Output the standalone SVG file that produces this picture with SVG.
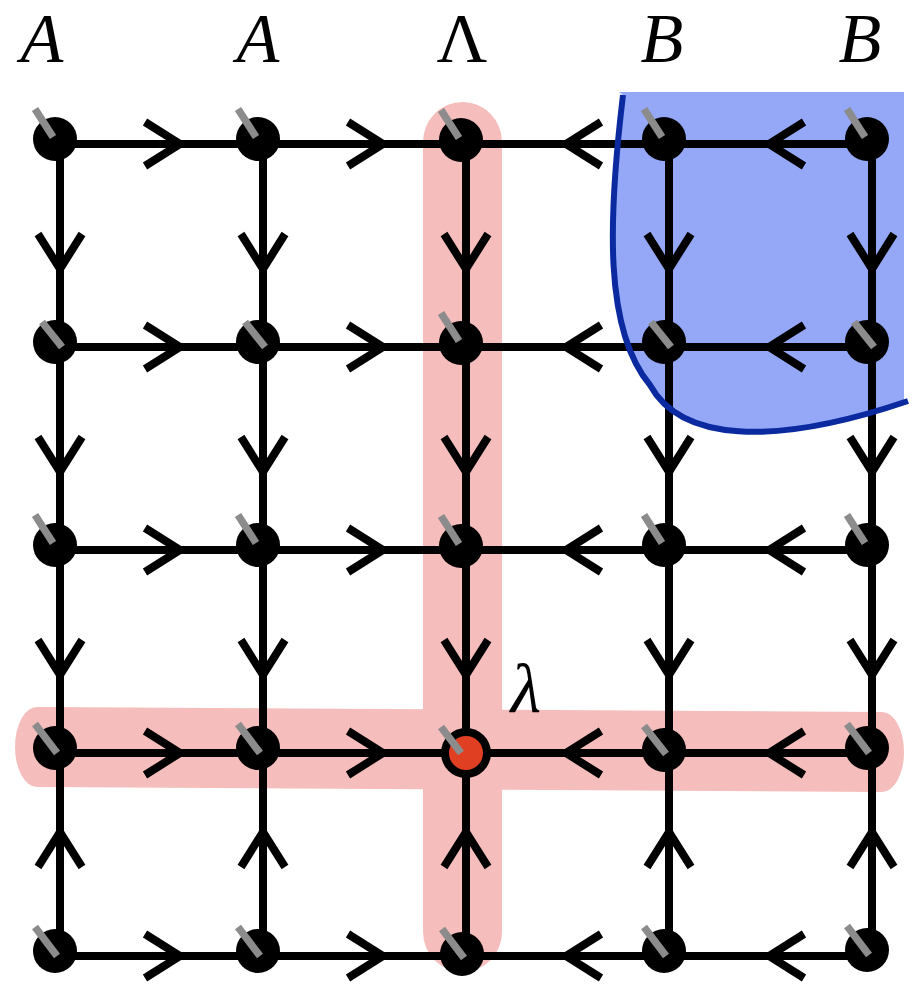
<svg xmlns="http://www.w3.org/2000/svg" width="920" height="996" viewBox="0 0 920 996">
<style>
.band{fill:#f5bdbb}
.edge{stroke:#000;stroke-width:8;fill:none;stroke-linecap:butt}
.chev{stroke:#000;stroke-width:8;fill:none;stroke-linecap:butt;stroke-linejoin:miter;stroke-miterlimit:10}
.dot{fill:#000}
.bar{stroke:#8c8c8c;stroke-width:7.5;stroke-linecap:butt}
.lbl{font-family:'Liberation Serif','Times New Roman',serif;font-size:70px;fill:#000;text-anchor:middle}
</style>
<rect width="920" height="996" fill="#fff"/>
<g id="highlight">
<path class="band" d="M423,142 A39.5,40 0 0 1 502,142 L502,932 A39.5,40 0 0 1 423,932 Z"/>
<path class="band" d="M37,707 L882,712 A22,40 0 0 1 882,792 L37,787 A22,40 0 0 1 37,707 Z"/>
</g>
<g id="region">
<path fill="#94a8f7" d="M619,92 L904,92 L904,402 C770,448 680,440 650,385 C604,330 608,220 623,95 Z"/>
</g>
<g id="connectors">
<path class="edge" d="M60,144H872M60,347H872M60,550H872M60,753H872M60,956H872M60,144V956M263,144V956M466,144V956M669,144V956M872,144V956"/>
<path class="chev" d="M145,122L180,144L145,166M348,122L383,144L348,166M601,122L566,144L601,166M804,122L769,144L804,166
M145,325L180,347L145,369M348,325L383,347L348,369M601,325L566,347L601,369M804,325L769,347L804,369
M145,528L180,550L145,572M348,528L383,550L348,572M601,528L566,550L601,572M804,528L769,550L804,572
M145,731L180,753L145,775M348,731L383,753L348,775M601,731L566,753L601,775M804,731L769,753L804,775
M145,934L180,956L145,978M348,934L383,956L348,978M601,934L566,956L601,978M804,934L769,956L804,978"/>
<path class="chev" d="M38,234L60,269L82,234M241,234L263,269L285,234M444,234L466,269L488,234M647,234L669,269L691,234M850,234L872,269L894,234
M38,437L60,472L82,437M241,437L263,472L285,437M444,437L466,472L488,437M647,437L669,472L691,437M850,437L872,472L894,437
M38,640L60,675L82,640M241,640L263,675L285,640M444,640L466,675L488,640M647,640L669,675L691,640M850,640L872,675L894,640
M38,867L60,832L82,867M241,867L263,832L285,867M444,867L466,832L488,867M647,867L669,832L691,867M850,867L872,832L894,867"/>
</g>
<g id="boundary">
<path d="M623,95 C608,220 604,330 650,385 C680,440 770,448 908,401" fill="none" stroke="#0b2aa0" stroke-width="6"/>
</g>
<g id="nodes">
<g id="n00"><circle class="dot" cx="55" cy="139" r="22"/><line class="bar" x1="53" y1="137" x2="35" y2="109"/></g>
<g id="n01"><circle class="dot" cx="258" cy="139" r="22"/><line class="bar" x1="256" y1="137" x2="238" y2="109"/></g>
<g id="n02"><circle class="dot" cx="461" cy="140" r="22"/><line class="bar" x1="459" y1="138" x2="441" y2="110"/></g>
<g id="n03"><circle class="dot" cx="664" cy="139" r="22"/><line class="bar" x1="662" y1="137" x2="644" y2="109"/></g>
<g id="n04"><circle class="dot" cx="867" cy="139" r="22"/><line class="bar" x1="865" y1="137" x2="847" y2="109"/></g>
<g id="n10"><circle class="dot" cx="55" cy="342" r="22"/><line class="bar" x1="62" y1="347" x2="42" y2="322"/></g>
<g id="n11"><circle class="dot" cx="258" cy="342" r="22"/><line class="bar" x1="265" y1="347" x2="245" y2="322"/></g>
<g id="n12"><circle class="dot" cx="461" cy="343" r="22"/><line class="bar" x1="459" y1="341" x2="441" y2="313"/></g>
<g id="n13"><circle class="dot" cx="664" cy="342" r="22"/><line class="bar" x1="671" y1="347" x2="651" y2="322"/></g>
<g id="n14"><circle class="dot" cx="867" cy="342" r="22"/><line class="bar" x1="874" y1="347" x2="854" y2="322"/></g>
<g id="n20"><circle class="dot" cx="55" cy="545" r="22"/><line class="bar" x1="53" y1="543" x2="35" y2="515"/></g>
<g id="n21"><circle class="dot" cx="258" cy="545" r="22"/><line class="bar" x1="256" y1="543" x2="238" y2="515"/></g>
<g id="n22"><circle class="dot" cx="461" cy="546" r="22"/><line class="bar" x1="459" y1="544" x2="441" y2="516"/></g>
<g id="n23"><circle class="dot" cx="664" cy="545" r="22"/><line class="bar" x1="662" y1="543" x2="644" y2="515"/></g>
<g id="n24"><circle class="dot" cx="867" cy="545" r="22"/><line class="bar" x1="865" y1="543" x2="847" y2="515"/></g>
<g id="n30"><circle class="dot" cx="55" cy="748" r="22"/><line class="bar" x1="57" y1="753" x2="35" y2="724"/></g>
<g id="n31"><circle class="dot" cx="258" cy="748" r="22"/><line class="bar" x1="260" y1="753" x2="238" y2="724"/></g>
<g id="n32"><circle cx="466" cy="753" r="21" fill="#e03f22" stroke="#000" stroke-width="8"/><line class="bar" x1="461" y1="753" x2="441" y2="727"/></g>
<g id="n33"><circle class="dot" cx="664" cy="750" r="22"/><line class="bar" x1="666" y1="754" x2="644" y2="726"/></g>
<g id="n34"><circle class="dot" cx="867" cy="748" r="22"/><line class="bar" x1="869" y1="753" x2="847" y2="724"/></g>
<g id="n40"><circle class="dot" cx="55" cy="951" r="22"/><line class="bar" x1="57" y1="956" x2="35" y2="927"/></g>
<g id="n41"><circle class="dot" cx="258" cy="951" r="22"/><line class="bar" x1="260" y1="956" x2="238" y2="927"/></g>
<g id="n42"><circle class="dot" cx="462" cy="954" r="22"/><line class="bar" x1="464" y1="958" x2="442" y2="929"/></g>
<g id="n43"><circle class="dot" cx="664" cy="951" r="22"/><line class="bar" x1="666" y1="956" x2="644" y2="927"/></g>
<g id="n44"><circle class="dot" cx="867" cy="950" r="22"/><line class="bar" x1="869" y1="955" x2="847" y2="926"/></g>
</g>
<g id="labels">
<text class="lbl" x="42" y="62" font-style="italic">A</text>
<text class="lbl" x="258" y="62" font-style="italic">A</text>
<text class="lbl" x="462" y="62">Λ</text>
<text class="lbl" x="662" y="62" font-style="italic">B</text>
<text class="lbl" x="860" y="62" font-style="italic">B</text>
<text class="lbl" x="526" y="712" font-style="italic" font-size="92">λ</text>
</g>
</svg>
